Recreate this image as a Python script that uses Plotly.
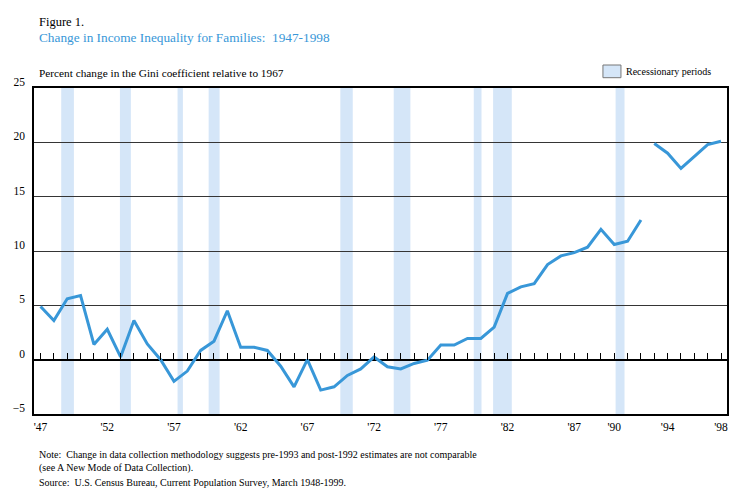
import plotly.graph_objects as go

years = list(range(1947, 1999))
gini_change = [
    4.9, 3.6, 5.6, 5.9, 1.4, 2.8, 0.25, 3.6, 1.45, 0.0,
    -2.0, -1.05, 0.85, 1.7, 4.5, 1.15, 1.15, 0.85, -0.6, -2.5,
    0.0, -2.8, -2.5, -1.45, -0.85, 0.25, -0.65, -0.85, -0.35, -0.05,
    1.35, 1.35, 1.95, 1.95, 3.0, 6.1, 6.7, 7.0, 8.75, 9.55,
    9.85, 10.35, 12.0, 10.6, 10.9, 12.85,
    19.9, 19.0, 17.6, 18.7, 19.8, 20.1,
]
# break in series between 1992 and 1993 (methodology change)
break_after = 1992

rec_start = [1948.55, 1952.95, 1957.27, 1959.6, 1969.47, 1973.47, 1979.47, 1980.92, 1990.1]
rec_end = [1949.5, 1953.77, 1957.67, 1960.42, 1970.4, 1974.72, 1980.05, 1982.32, 1990.77]

y_ticks = [-5, 0, 5, 10, 15, 20, 25]
x_tickvals = [1947, 1952, 1957, 1962, 1967, 1972, 1977, 1982, 1987, 1990, 1994, 1998]
x_ticktext = ["'47", "'52", "'57", "'62", "'67", "'72", "'77", "'82", "'87", "'90", "'94", "'98"]

LINE = "#3897d8"
BAND = "#d5e6f8"
FONT = "Liberation Serif"

xs, ys = [], []
for yr, v in zip(years, gini_change):
    xs.append(yr)
    ys.append(v)
    if yr == break_after:
        xs.append(None)
        ys.append(None)

fig = go.Figure()
fig.add_trace(go.Scatter(x=xs, y=ys, mode="lines", line=dict(color=LINE, width=3),
                         connectgaps=False, showlegend=False, hoverinfo="skip"))
# invisible companion trace so the year-tick axis on the zero line is drawn
fig.add_trace(go.Scatter(x=years, y=gini_change, xaxis="x2", mode="lines",
                         line=dict(width=0), opacity=0, showlegend=False, hoverinfo="skip"))

shapes = []
for s, e in zip(rec_start, rec_end):
    shapes.append(dict(type="rect", xref="x", yref="paper", x0=s, x1=e, y0=0, y1=1,
                       fillcolor=BAND, line=dict(width=0), layer="below"))
# legend box
shapes.append(dict(type="rect", xref="paper", yref="paper",
                   x0=(602.7 - 34) / 692.7, x1=(620.7 - 34) / 692.7,
                   y0=(414 - 77.7) / 326, y1=(414 - 65) / 326,
                   fillcolor=BAND, line=dict(color="#777777", width=1)))

xr = [1946.51, 1998.45]
fig.update_layout(
    width=750, height=496,
    margin=dict(l=34, r=23.3, t=88, b=82, autoexpand=False),
    paper_bgcolor="white", plot_bgcolor="white",
    font=dict(family=FONT, color="black", size=11),
    shapes=shapes,
    xaxis=dict(range=xr, tickmode="array", tickvals=x_tickvals, ticktext=x_ticktext,
               ticks="", showgrid=False, zeroline=False, showline=True, mirror=True,
               linecolor="black", linewidth=1.5, tickfont=dict(size=11.5, family=FONT),
               ticklabelstandoff=1),
    xaxis2=dict(range=xr, overlaying="x", anchor="free", position=5 / 30, side="top",
                tickmode="linear", tick0=1947, dtick=1, ticks="outside", ticklen=7,
                tickwidth=1, tickcolor="black", showticklabels=False, showgrid=False,
                zeroline=False, showline=False),
    yaxis=dict(range=[-5, 25], tickmode="array", tickvals=y_ticks, ticks="",
               showgrid=True, gridcolor="#353535", gridwidth=1.3,
               zeroline=True, zerolinecolor="black", zerolinewidth=1.6,
               showline=True, mirror=True, linecolor="black", linewidth=1.5,
               tickfont=dict(size=11.5, family=FONT), ticklabelstandoff=5,
               ticklabelshift=-6),
    annotations=[
        dict(text="Figure 1.", xref="paper", yref="paper", x=(37 - 34) / 692.7, y=(414 - 22) / 326,
             xanchor="left", yanchor="middle", showarrow=False, font=dict(size=12.5, color="black")),
        dict(text="Change in Income Inequality for Families:  1947-1998", xref="paper", yref="paper",
             x=(37 - 34) / 692.7, y=(414 - 37) / 326, xanchor="left", yanchor="middle",
             showarrow=False, font=dict(size=13.3, color=LINE)),
        dict(text="Percent change in the Gini coefficient relative to 1967", xref="paper", yref="paper",
             x=(37 - 34) / 692.7, y=(414 - 73) / 326, xanchor="left", yanchor="middle",
             showarrow=False, font=dict(size=11.3, color="black")),
        dict(text="Recessionary periods", xref="paper", yref="paper",
             x=(624 - 34) / 692.7, y=(414 - 71) / 326, xanchor="left", yanchor="middle",
             showarrow=False, font=dict(size=10, color="black")),
        dict(text="Note:  Change in data collection methodology suggests pre-1993 and post-1992 estimates are not comparable<br>(see A New Mode of Data Collection).",
             xref="paper", yref="paper", x=(37 - 34) / 692.7, y=(414 - 447) / 326,
             xanchor="left", yanchor="top", align="left", showarrow=False,
             font=dict(size=10, color="black")),
        dict(text="Source:  U.S. Census Bureau, Current Population Survey, March 1948-1999.",
             xref="paper", yref="paper", x=(37 - 34) / 692.7, y=(414 - 483) / 326,
             xanchor="left", yanchor="middle", showarrow=False, font=dict(size=10, color="black")),
    ],
)

fig.write_html("out.html", config={"displayModeBar": False},
               post_script="document.body.style.margin='0';")
